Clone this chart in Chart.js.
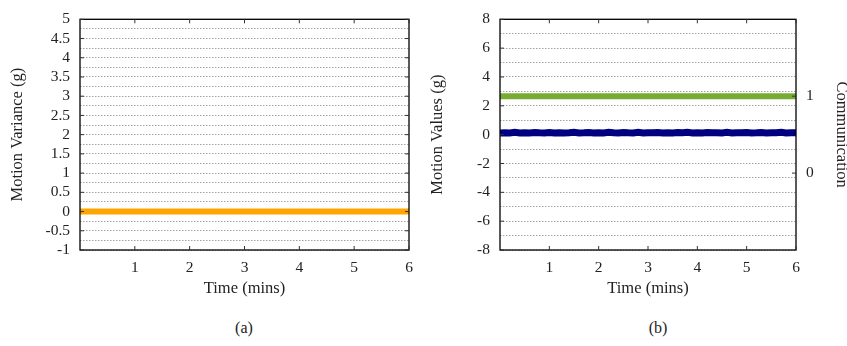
<!DOCTYPE html>
<html>
<head>
<meta charset="utf-8">
<script src="https://cdn.jsdelivr.net/npm/chart.js@4"></script>
<style>
  body { margin: 0; background: #fff; width: 847px; height: 346px; overflow: hidden; position: relative; }
  .box { position: absolute; top: 0; height: 300px; }
  #boxA { left: 0; width: 420px; }
  #boxB { left: 420px; width: 427px; }
  .cap { position: absolute; top: 319px; font-family: "Liberation Serif", serif; font-size: 16px; color: #222; transform: translateX(-50%); }
</style>
</head>
<body>
<div class="box" id="boxA"><canvas id="chartA" width="420" height="300"></canvas></div>
<div class="box" id="boxB"><canvas id="chartB" width="427" height="300"></canvas></div>
<div class="cap" style="left:244px">(a)</div>
<div class="cap" style="left:658px">(b)</div>
<script>
// time axis (minutes)
const timeA = [0, 0.5, 1, 1.5, 2, 2.5, 3, 3.5, 4, 4.5, 5, 5.5, 6];
const varianceA = [0, 0, 0, 0, 0, 0, 0, 0, 0, 0, 0, 0, 0];

const timeB = [0, 0.1, 0.2, 0.3, 0.4, 0.5, 0.6, 0.7, 0.8, 0.9, 1, 1.1, 1.2, 1.3, 1.4, 1.5,
  1.6, 1.7, 1.8, 1.9, 2, 2.1, 2.2, 2.3, 2.4, 2.5, 2.6, 2.7, 2.8, 2.9, 3, 3.1, 3.2, 3.3,
  3.4, 3.5, 3.6, 3.7, 3.8, 3.9, 4, 4.1, 4.2, 4.3, 4.4, 4.5, 4.6, 4.7, 4.8, 4.9, 5, 5.1,
  5.2, 5.3, 5.4, 5.5, 5.6, 5.7, 5.8, 5.9, 6];
const motionB = [0.12, 0.14, 0.12, 0.16, 0.12, 0.13, 0.12, 0.15, 0.13, 0.12, 0.15, 0.12, 0.14,
  0.12, 0.13, 0.16, 0.12, 0.13, 0.15, 0.12, 0.14, 0.12, 0.16, 0.13, 0.12, 0.15, 0.13, 0.12,
  0.16, 0.12, 0.14, 0.13, 0.15, 0.12, 0.13, 0.12, 0.15, 0.13, 0.16, 0.12, 0.14, 0.12, 0.15,
  0.13, 0.13, 0.12, 0.16, 0.12, 0.14, 0.13, 0.15, 0.12, 0.13, 0.15, 0.12, 0.14, 0.13, 0.16,
  0.12, 0.13, 0.13];
const commTime = [0, 6];
const commB = [1, 1];

const xTicks = [1, 2, 3, 4, 5, 6];
const yLabelsA = ['-1', '-0.5', '0', '0.5', '1', '1.5', '2', '2.5', '3', '3.5', '4', '4.5', '5'];
const yLabelsB = ['-8', '-6', '-4', '-2', '0', '2', '4', '6', '8'];
const commLabels = ['0', '1'];

const serif = { family: '"Liberation Serif", "DejaVu Serif", serif', size: 15.5 };
const serifTitle = { family: serif.family, size: 16.5, lineHeight: 1.2 };

const pts = (xs, ys) => xs.map((x, i) => ({ x: x, y: ys[i] }));

// frame + small inward tick marks like gnuplot
const frame = {
  id: 'frame',
  afterDraw(chart, args, opts) {
    const { ctx, chartArea: a, scales } = chart;
    ctx.save();
    ctx.strokeStyle = '#000';
    ctx.lineWidth = 1.3;
    ctx.strokeRect(a.left, a.top, a.right - a.left, a.bottom - a.top);
    ctx.lineWidth = 1;
    ctx.strokeStyle = '#333';
    xTicks.forEach(v => {
      const x = scales.x.getPixelForValue(v);
      ctx.beginPath();
      ctx.moveTo(x, a.bottom); ctx.lineTo(x, a.bottom - 4);
      ctx.moveTo(x, a.top); ctx.lineTo(x, a.top + 4);
      ctx.stroke();
    });
    opts.majors.forEach(v => {
      const y = scales.y.getPixelForValue(v);
      ctx.beginPath();
      ctx.moveTo(a.left, y); ctx.lineTo(a.left + 4, y);
      if (!opts.rightAxis) { ctx.moveTo(a.right, y); ctx.lineTo(a.right - 4, y); }
      ctx.stroke();
    });
    if (opts.rightAxis) {
      commLabels.forEach(l => {
        const y = scales.y1.getPixelForValue(Number(l));
        ctx.beginPath();
        ctx.moveTo(a.right, y); ctx.lineTo(a.right - 4, y);
        ctx.stroke();
      });
    }
    ctx.restore();
  }
};

const xScale = {
  type: 'linear', min: 0, max: 6,
  grid: { display: false, drawTicks: false },
  border: { display: false },
  ticks: {
    stepSize: 1, autoSkip: false, maxRotation: 0, color: '#222', font: serif, padding: 9,
    callback: v => xTicks.includes(v) ? String(v) : ''
  },
  title: { display: true, text: 'Time (mins)', color: '#222', font: serifTitle, padding: { top: 0, bottom: 1 } },
  afterFit: s => { s.height = 50; s.paddingLeft = 0; s.paddingRight = 0; }
};

const dotted = { color: '#8a8a8a', lineWidth: 0.8, drawTicks: false };
const dashBorder = { display: false, dash: [1.5, 1.5] };

new Chart(document.getElementById('chartA'), {
  type: 'line',
  data: {
    datasets: [{
      data: pts(timeA, varianceA),
      borderColor: '#ffa500',
      backgroundColor: '#ffa500',
      borderWidth: 6,
      pointRadius: 0,
      tension: 0
    }]
  },
  options: {
    responsive: false,
    animation: false,
    layout: { padding: { top: 13, right: 11, left: 0, bottom: 0 } },
    plugins: { legend: { display: false }, tooltip: { enabled: false }, frame: { majors: yLabelsA.map(Number), rightAxis: false } },
    scales: {
      x: xScale,
      y: {
        type: 'linear', min: -1, max: 5,
        grid: dotted,
        border: dashBorder,
        ticks: {
          stepSize: 0.25, autoSkip: false, color: '#222', font: serif, padding: 10,
          callback: v => yLabelsA.includes(String(v)) ? String(v) : ''
        },
        title: { display: true, text: 'Motion Variance (g)', color: '#222', font: serifTitle, padding: { top: 8, bottom: 0 } },
        afterFit: s => { s.width = 80; }
      }
    }
  },
  plugins: [frame]
});

new Chart(document.getElementById('chartB'), {
  type: 'line',
  data: {
    datasets: [{
      data: pts(commTime, commB),
      yAxisID: 'y1',
      borderColor: '#78ab34',
      borderWidth: 6,
      pointRadius: 0,
      tension: 0
    }, {
      data: pts(timeB, motionB),
      yAxisID: 'y',
      borderColor: '#000080',
      borderWidth: 7,
      pointRadius: 0,
      tension: 0
    }]
  },
  options: {
    responsive: false,
    animation: false,
    layout: { padding: { top: 13, right: 0, left: 0, bottom: 0 } },
    plugins: { legend: { display: false }, tooltip: { enabled: false }, frame: { majors: yLabelsB.map(Number), rightAxis: true } },
    scales: {
      x: xScale,
      y: {
        type: 'linear', position: 'left', min: -8, max: 8,
        grid: dotted,
        border: dashBorder,
        ticks: {
          stepSize: 1, autoSkip: false, color: '#222', font: serif, padding: 10,
          callback: v => yLabelsB.includes(String(v)) ? String(v) : ''
        },
        title: { display: true, text: 'Motion Values (g)', color: '#222', font: serifTitle, padding: { top: 8, bottom: 0 } },
        afterFit: s => { s.width = 80; }
      },
      y1: {
        type: 'linear', position: 'right', min: -1, max: 2,
        grid: { display: false, drawTicks: false },
        border: { display: false },
        ticks: {
          stepSize: 1, autoSkip: false, color: '#222', font: serif, padding: 10,
          callback: v => commLabels.includes(String(v)) ? String(v) : ''
        },
        title: { display: true, text: 'Communication', color: '#222', font: { family: serif.family, size: 16.5, lineHeight: 1 }, padding: { top: -3, bottom: 0 } },
        afterFit: s => { s.width = 51; }
      }
    }
  },
  plugins: [frame]
});
</script>
</body>
</html>
